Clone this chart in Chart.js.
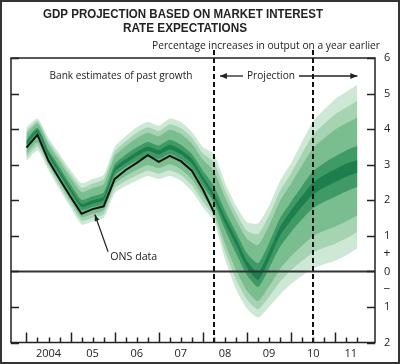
<!DOCTYPE html>
<html>
<head>
<meta charset="utf-8">
<script src="https://cdn.jsdelivr.net/npm/chart.js@4.4.1/dist/chart.umd.min.js"></script>
<style>
  body { margin: 0; background: #fff; }
  #cadre { width: 400px; height: 364px; }
</style>
</head>
<body>
<div id="cadre"><canvas id="fanChart" width="400" height="364"></canvas></div>
<script>
// Trimestres : 0 = 2004 T1 ... 30 = 2011 T3
const trimestres = [0, 1, 2, 3, 4, 5, 6, 7, 8, 9, 10, 11, 12, 13, 14, 15, 16, 17, 18, 19, 20, 21, 22, 23, 24, 25, 26, 27, 28, 29, 30];

// Données ONS (ligne noire), jusqu'au début de la projection
const onsData = [3.48, 3.84, 3.11, 2.6, 2.1, 1.62, 1.75, 1.83, 2.6, 2.85, 3.05, 3.27, 3.08, 3.25, 3.1, 2.83, 2.3, 1.66];

// Bornes de l'éventail, de la bande externe à la bande centrale
const outerHaut = [4.05, 4.3, 3.75, 3.3, 2.85, 2.48, 2.6, 2.72, 3.5, 3.8, 4.05, 4.2, 4.1, 4.3, 4.2, 3.92, 3.5, 3.3, 2.5, 1.85, 1.38, 1.35, 1.85, 2.55, 3.05, 3.65, 4.22, 4.55, 4.85, 5.05, 5.25];
const outerBas = [3.1, 3.4, 2.85, 2.3, 1.8, 1.32, 1.4, 1.5, 2.2, 2.4, 2.55, 2.68, 2.6, 2.68, 2.55, 2.25, 1.8, 1.4, 0.35, -0.5, -1.05, -1.3, -1.0, -0.65, -0.35, -0.12, 0.08, 0.2, 0.3, 0.45, 0.65];
const large80Haut = [3.96, 4.23, 3.66, 3.2, 2.74, 2.35, 2.47, 2.59, 3.37, 3.66, 3.9, 4.05, 3.95, 4.14, 4.03, 3.76, 3.32, 3.06, 2.29, 1.65, 1.14, 1.05, 1.57, 2.27, 2.76, 3.32, 3.85, 4.15, 4.42, 4.61, 4.79];
const large80Bas = [3.2, 3.51, 2.94, 2.4, 1.9, 1.43, 1.51, 1.61, 2.33, 2.54, 2.7, 2.83, 2.75, 2.84, 2.71, 2.42, 1.96, 1.54, 0.57, -0.23, -0.8, -1.07, -0.71, -0.29, 0.04, 0.3, 0.53, 0.67, 0.78, 0.93, 1.11];
const milieuHaut = [3.87, 4.16, 3.57, 3.1, 2.63, 2.23, 2.34, 2.45, 3.24, 3.52, 3.75, 3.9, 3.8, 3.98, 3.86, 3.59, 3.14, 2.82, 2.08, 1.45, 0.91, 0.75, 1.29, 1.99, 2.47, 2.99, 3.47, 3.75, 3.99, 4.17, 4.33];
const milieuBas = [3.3, 3.62, 3.03, 2.5, 2.0, 1.53, 1.62, 1.72, 2.46, 2.68, 2.85, 2.99, 2.9, 3.01, 2.87, 2.59, 2.12, 1.68, 0.79, 0.04, -0.55, -0.84, -0.42, 0.07, 0.43, 0.73, 0.99, 1.14, 1.26, 1.41, 1.57];
const centreHaut = [3.71, 4.04, 3.41, 2.93, 2.44, 2.01, 2.11, 2.22, 3.01, 3.28, 3.49, 3.64, 3.54, 3.7, 3.56, 3.3, 2.83, 2.4, 1.71, 1.1, 0.5, 0.23, 0.8, 1.5, 1.96, 2.41, 2.82, 3.05, 3.24, 3.4, 3.53];
const centreBas = [3.48, 3.81, 3.19, 2.68, 2.18, 1.72, 1.81, 1.91, 2.69, 2.93, 3.11, 3.26, 3.16, 3.3, 3.15, 2.89, 2.4, 1.93, 1.18, 0.51, -0.11, -0.44, 0.09, 0.7, 1.11, 1.47, 1.78, 1.96, 2.1, 2.25, 2.38];
const coeurHaut = [3.64, 3.98, 3.34, 2.84, 2.34, 1.9, 2.0, 2.1, 2.9, 3.16, 3.36, 3.51, 3.41, 3.56, 3.42, 3.17, 2.67, 2.2, 1.53, 0.93, 0.29, -0.03, 0.56, 1.26, 1.72, 2.13, 2.5, 2.71, 2.87, 3.03, 3.13];
const coeurBas = [3.56, 3.91, 3.26, 2.76, 2.26, 1.81, 1.91, 2.01, 2.8, 3.04, 3.24, 3.39, 3.29, 3.43, 3.29, 3.03, 2.54, 2.04, 1.36, 0.74, 0.1, -0.24, 0.33, 1.01, 1.44, 1.83, 2.17, 2.36, 2.51, 2.66, 2.77];

// Axe des x : libellés des années (au milieu de chaque année)
const anneesPos = [2, 6, 10, 14, 18, 22, 26, 29.4];
const anneesLabels = ['2004', '05', '06', '07', '08', '09', '10', '11'];
const yTicks = [-2, -1, 0, 1, 2, 3, 4, 5, 6];
const lignesPointillees = [17, 26];

function serie(valeurs) {
  return valeurs.map((v, i) => ({ x: trimestres[i], y: v }));
}

function bande(bas, haut, couleur, idxBas, ordre) {
  return [
    { data: serie(bas), borderWidth: 0, pointRadius: 0, fill: false, order: ordre, tension: 0.2 },
    { data: serie(haut), borderWidth: 0, pointRadius: 0, backgroundColor: couleur, fill: idxBas, order: ordre, tension: 0.2 }
  ];
}

const texte = '#222';
const police = '"Open Sans", "DejaVu Sans", sans-serif';

// Décor : ligne zéro, cadre, graduations, pointillés, annotations
const decor = {
  id: 'decor',
  afterDatasetsDraw(chart) {
    const { ctx, chartArea: a, scales: { x, y } } = chart;
    const trait = (x1, y1, x2, y2) => { ctx.beginPath(); ctx.moveTo(x1, y1); ctx.lineTo(x2, y2); ctx.stroke(); };
    ctx.save();

    const y0 = y.getPixelForValue(0);
    ctx.strokeStyle = '#333';
    ctx.lineWidth = 2;
    trait(a.left, y0, a.right, y0);

    ctx.strokeStyle = '#111';
    ctx.setLineDash([5, 3]);
    lignesPointillees.forEach(q => {
      const px = Math.round(x.getPixelForValue(q));
      trait(px, a.top - 8, px, a.bottom);
    });
    ctx.setLineDash([]);

    ctx.strokeStyle = '#222';
    ctx.lineWidth = 1.5;
    ctx.strokeRect(a.left, a.top, a.right - a.left, a.bottom - a.top);

    trimestres.forEach(q => {
      const px = Math.round(x.getPixelForValue(q)) + 0.5;
      const len = q % 4 === 0 ? 10 : 5;
      trait(px, a.bottom, px, a.bottom - len);
    });
    yTicks.forEach(v => {
      const py = Math.round(y.getPixelForValue(v)) + 0.5;
      trait(a.left, py, a.left + 8, py);
      trait(a.right - 8, py, a.right, py);
    });
    ctx.restore();
  },
  afterDraw(chart) {
    const { ctx, chartArea: a, scales: { x, y } } = chart;
    ctx.save();
    ctx.fillStyle = texte;
    ctx.textBaseline = 'middle';
    ctx.textAlign = 'center';

    // Titre
    ctx.font = 'bold 12.5px "Liberation Sans", Arial, sans-serif';
    ctx.fillText('GDP PROJECTION BASED ON MARKET INTEREST', 183, 15, 280);
    ctx.fillText('RATE EXPECTATIONS', 185, 29, 124);
    ctx.font = '11px ' + police;
    ctx.fillText('Percentage increases in output on a year earlier', 266, 46, 228);

    // Signes + / − autour du zéro
    const lx = a.right + 12;
    ctx.font = '12px ' + police;
    ctx.fillText('+', lx, y.getPixelForValue(0.5));
    ctx.fillText('\u2212', lx, y.getPixelForValue(-0.5));

    // Annotations
    ctx.font = '11px ' + police;
    ctx.fillText('Bank estimates of past growth', 121, 76, 143);
    ctx.fillText('Projection', 271, 76, 48);

    // Flèches de la projection
    ctx.strokeStyle = '#222';
    ctx.lineWidth = 1.3;
    const ya = 76;
    const xg = x.getPixelForValue(17) + 6;
    const xd = x.getPixelForValue(30);
    ctx.beginPath(); ctx.moveTo(xg, ya); ctx.lineTo(243, ya); ctx.stroke();
    ctx.beginPath(); ctx.moveTo(299, ya); ctx.lineTo(xd, ya); ctx.stroke();
    ctx.beginPath(); ctx.moveTo(xg, ya); ctx.lineTo(xg + 7, ya - 3); ctx.lineTo(xg + 7, ya + 3); ctx.fill();
    ctx.beginPath(); ctx.moveTo(xd, ya); ctx.lineTo(xd - 7, ya - 3); ctx.lineTo(xd - 7, ya + 3); ctx.fill();

    // ONS data
    ctx.textAlign = 'left';
    const tx = x.getPixelForValue(7.6), ty = y.getPixelForValue(0.4);
    ctx.fillText('ONS data', tx, ty, 47);
    const px = x.getPixelForValue(6.2), py = y.getPixelForValue(1.6);
    const sx = x.getPixelForValue(7.4), sy = y.getPixelForValue(0.55);
    ctx.lineWidth = 1.2;
    ctx.beginPath(); ctx.moveTo(sx, sy); ctx.lineTo(px, py); ctx.stroke();
    const ang = Math.atan2(py - sy, px - sx);
    ctx.beginPath();
    ctx.moveTo(px, py);
    ctx.lineTo(px - 7 * Math.cos(ang - 0.35), py - 7 * Math.sin(ang - 0.35));
    ctx.lineTo(px - 7 * Math.cos(ang + 0.35), py - 7 * Math.sin(ang + 0.35));
    ctx.fill();

    // Bordure extérieure
    ctx.strokeStyle = '#333';
    ctx.lineWidth = 2;
    ctx.strokeRect(1, 1, 398, 362);
    ctx.restore();
  }
};

const ctx = document.getElementById('fanChart').getContext('2d');
new Chart(ctx, {
  type: 'line',
  data: {
    datasets: [
      ...bande(outerBas, outerHaut, '#cde8d4', 0, 5),
      ...bande(large80Bas, large80Haut, '#a6d4b3', 2, 4),
      ...bande(milieuBas, milieuHaut, '#7abd8f', 4, 3),
      ...bande(centreBas, centreHaut, '#3f9a66', 6, 2),
      ...bande(coeurBas, coeurHaut, '#1d7f4d', 8, 1),
      { data: serie(onsData), borderColor: '#111', borderWidth: 2, pointRadius: 0, fill: false, order: 0, tension: 0 }
    ]
  },
  options: {
    responsive: false,
    devicePixelRatio: 1,
    animation: false,
    layout: { padding: { top: 58, left: 11, right: 0, bottom: 0 } },
    plugins: {
      legend: { display: false },
      tooltip: { enabled: false },
      title: { display: false }
    },
    scales: {
      x: {
        type: 'linear',
        min: -1.4,
        max: 31.6,
        grid: { display: false, drawTicks: false },
        border: { display: false },
        afterBuildTicks: (scale) => { scale.ticks = anneesPos.map(v => ({ value: v })); },
        afterFit: (scale) => { scale.height = 21.5; },
        ticks: {
          autoSkip: false,
          maxRotation: 0,
          padding: 5,
          color: texte,
          font: { family: police, size: 11 },
          callback: (v, i) => anneesLabels[i]
        }
      },
      y: {
        position: 'right',
        min: -2,
        max: 6,
        grid: { display: false, drawTicks: false },
        border: { display: false },
        afterFit: (scale) => { scale.width = 25; },
        ticks: {
          stepSize: 1,
          padding: 9,
          color: texte,
          font: { family: police, size: 11 },
          callback: v => Math.abs(v)
        }
      }
    }
  },
  plugins: [decor]
});
</script>
</body>
</html>
